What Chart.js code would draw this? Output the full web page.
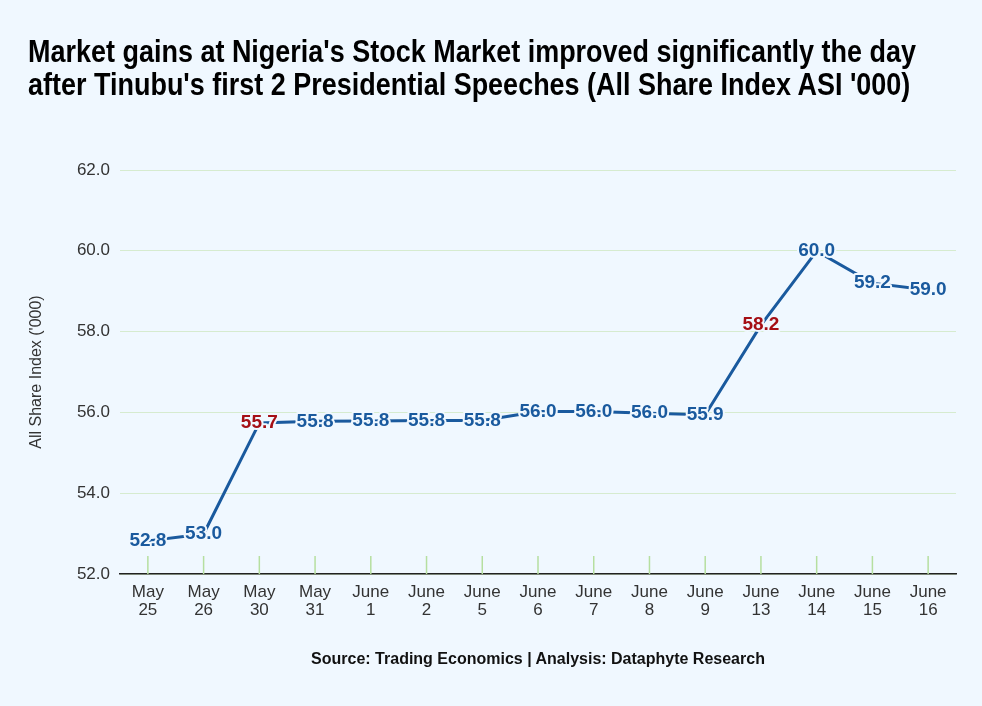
<!DOCTYPE html>
<html>
<head>
<meta charset="utf-8">
<script src="https://cdn.jsdelivr.net/npm/chart.js@4.4.0/dist/chart.umd.min.js"></script>
<style>
  html, body { margin: 0; padding: 0; background: #f0f8ff; }
  #wrap { position: relative; width: 982px; height: 706px; background: #f0f8ff; }
  #title {
    position: absolute; left: 28px; top: 35px;
    font-family: 'Liberation Sans', Arial, sans-serif;
    font-weight: bold; font-size: 32px; line-height: 33px; color: #000;
    white-space: nowrap; transform: scaleX(0.843); transform-origin: 0 0;
  }
  #source {
    position: absolute; left: 0; width: 1076px; top: 650px; text-align: center;
    font-family: 'Liberation Sans', Arial, sans-serif; font-weight: bold; font-size: 16px; color: #111;
  }
  canvas { position: absolute; left: 0; top: 0; }
</style>
</head>
<body>
<div id="wrap">
  <canvas id="chart" width="982" height="706"></canvas>
  <div id="title">Market gains at Nigeria's Stock Market improved significantly the day<br>after Tinubu's first 2 Presidential Speeches (All Share Index ASI '000)</div>
  <div id="source">Source: Trading Economics | Analysis: Dataphyte Research</div>
</div>
<script>
// Data
const dates = [
  ['May', '25'], ['May', '26'], ['May', '30'], ['May', '31'],
  ['June', '1'], ['June', '2'], ['June', '5'], ['June', '6'],
  ['June', '7'], ['June', '8'], ['June', '9'], ['June', '13'],
  ['June', '14'], ['June', '15'], ['June', '16']
]
const asiValues = [52.82, 52.99, 55.74, 55.78, 55.79, 55.80, 55.80, 56.02, 56.02, 55.98, 55.94, 58.16, 59.99, 59.20, 59.03]
// days right after the presidential speeches
const highlightDays = ['May 30', 'June 13']

const lineColor = '#1a5a9e'
const redColor = '#a50f15'
const bgColor = '#f0f8ff'

// Value labels drawn on top of the line, with a halo in the background colour
const valueLabels = {
  id: 'valueLabels',
  afterDatasetsDraw(chart) {
    const ctx = chart.ctx
    const meta = chart.getDatasetMeta(0)
    ctx.save()
    ctx.font = 'bold 19px "Liberation Sans", Arial, sans-serif'
    ctx.textAlign = 'center'
    ctx.textBaseline = 'middle'
    ctx.lineJoin = 'round'
    meta.data.forEach((pt, i) => {
      const txt = asiValues[i].toFixed(1)
      const day = dates[i].join(' ')
      ctx.lineWidth = 4
      ctx.strokeStyle = bgColor
      ctx.strokeText(txt, pt.x, pt.y)
      ctx.fillStyle = highlightDays.includes(day) ? redColor : lineColor
      ctx.fillText(txt, pt.x, pt.y)
    })
    ctx.restore()
  }
}

// Short green tick marks standing on the x axis
const xTickMarks = {
  id: 'xTickMarks',
  beforeDatasetsDraw(chart) {
    const ctx = chart.ctx
    const x = chart.scales.x
    const bottom = chart.chartArea.bottom
    ctx.save()
    ctx.strokeStyle = '#b6dfa0'
    ctx.lineWidth = 1.5
    x.ticks.forEach((t, i) => {
      const px = x.getPixelForTick(i)
      ctx.beginPath()
      ctx.moveTo(px, bottom - 18)
      ctx.lineTo(px, bottom)
      ctx.stroke()
    })
    ctx.restore()
  }
}

new Chart(document.getElementById('chart'), {
  type: 'line',
  data: {
    labels: dates,
    datasets: [{
      data: asiValues,
      borderColor: lineColor,
      borderWidth: 3,
      pointRadius: 0,
      tension: 0
    }]
  },
  options: {
    responsive: false,
    animation: false,
    layout: { padding: { top: 170, right: 26, left: 0, bottom: 0 } },
    plugins: {
      legend: { display: false },
      tooltip: { enabled: false }
    },
    scales: {
      x: {
        offset: true,
        afterFit: s => { s.height = 132 },
        grid: { display: false, drawTicks: false },
        border: { display: true, color: '#222', width: 1.5 },
        ticks: {
          color: '#333',
          padding: 9,
          maxRotation: 0,
          autoSkip: false,
          font: { family: '"Liberation Sans", Arial, sans-serif', size: 17, lineHeight: 1.06 }
        }
      },
      y: {
        min: 52,
        max: 62,
        afterFit: s => { s.width = 120 },
        border: { display: false },
        grid: { color: '#d6ebcf', lineWidth: 1, drawTicks: false },
        ticks: {
          stepSize: 2,
          padding: 10,
          color: '#333',
          font: { family: '"Liberation Sans", Arial, sans-serif', size: 17 },
          callback: v => v.toFixed(1)
        },
        title: {
          display: true,
          text: "All Share Index ('000)",
          color: '#333',
          padding: { top: 27, bottom: 0 },
          font: { family: '"Liberation Sans", Arial, sans-serif', size: 16, lineHeight: 1.2 }
        }
      }
    }
  },
  plugins: [xTickMarks, valueLabels]
})
</script>
</body>
</html>
